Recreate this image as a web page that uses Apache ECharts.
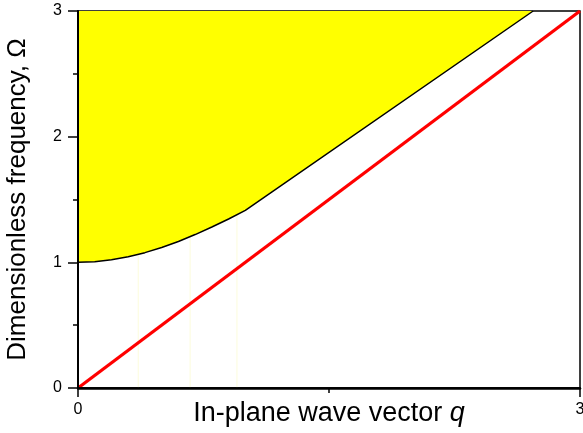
<!DOCTYPE html>
<html>
<head>
<meta charset="utf-8">
<script src="https://cdn.jsdelivr.net/npm/echarts@6/dist/echarts.min.js"></script>
<style>
  html, body { margin: 0; padding: 0; background: #fff; }
  #chart { width: 583px; height: 433px; }
</style>
</head>
<body>
<div id="chart"></div>
<script>
// Upper boundary of the gap (black curve): wave vector q vs frequency Omega
const boundaryQ = [0, 0.1, 0.2, 0.3, 0.4, 0.5, 0.6, 0.7, 0.8, 0.9, 1.0, 2.72];
const boundaryOmega = [1.0, 1.005, 1.02, 1.044, 1.077, 1.118, 1.166, 1.221, 1.281, 1.345, 1.414, 3.0];

// Light line (red): Omega = q
const lightQ = [0, 3];
const lightOmega = [0, 3];

// Faint seams in the shaded band
const seamQ = [0.36, 0.67, 0.95];

// Axis extents and tick labels
const xRange = [0, 3];
const yRange = [0, 3];
const xTickLabels = ['0', '3'];
const yTickLabels = ['0', '1', '2', '3'];

const FONT = '"Liberation Sans", Arial, Helvetica, sans-serif';

const chart = echarts.init(document.getElementById('chart'), null, { renderer: 'canvas' });

const pair = (xs, ys) => xs.map((x, i) => [x, ys[i]]);

// Seams sit below the opaque shading, so they only show under the boundary
const seamSeries = seamQ.map(q => ({
  type: 'line',
  data: [[q, yRange[0]], [q, yRange[1]]],
  showSymbol: false,
  silent: true,
  lineStyle: { color: '#fcfcdc', width: 1 },
  z: 1
}));

chart.setOption({
  animation: false,
  backgroundColor: '#ffffff',
  grid: {
    left: 78, right: 3, top: 11, bottom: 45,
    containLabel: false, outerBoundsMode: 'none',
    show: true, borderColor: '#000', borderWidth: 1.5, backgroundColor: 'transparent'
  },
  xAxis: [{
    type: 'value', min: xRange[0], max: xRange[1], interval: 3,
    name: '{n|In-plane wave vector }{i|q}',
    nameLocation: 'middle', nameGap: 12, nameMoveOverlap: false,
    nameTextStyle: {
      rich: {
        n: { fontFamily: FONT, fontSize: 27, color: '#000' },
        i: { fontFamily: FONT, fontSize: 27, color: '#000', fontStyle: 'italic' }
      }
    },
    z: 10,
    axisLine: { show: true, lineStyle: { color: '#000', width: 1.5 } },
    axisTick: { show: true, inside: false, length: 9, lineStyle: { color: '#000', width: 1.5 } },
    minorTick: { show: true, splitNumber: 2, length: 5, lineStyle: { color: '#000', width: 1.5 } },
    axisLabel: {
      fontFamily: FONT, fontSize: 16, color: '#000', margin: 14,
      formatter: v => (xTickLabels.includes(String(v)) ? String(v) : '')
    },
    splitLine: { show: false }
  }, {
    type: 'value', position: 'top', min: xRange[0], max: xRange[1],
    z: 10,
    axisLine: { show: true, lineStyle: { color: '#000', width: 2.5 } },
    axisTick: { show: false }, axisLabel: { show: false }, splitLine: { show: false }
  }],
  yAxis: [{
    type: 'value', min: yRange[0], max: yRange[1], interval: 1,
    name: 'Dimensionless frequency, Ω',
    nameLocation: 'middle', nameGap: 47, nameRotate: 90, nameMoveOverlap: false,
    nameTextStyle: { fontFamily: FONT, fontSize: 26, color: '#000' },
    z: 10,
    axisLine: { show: true, lineStyle: { color: '#000', width: 1.5 } },
    axisTick: { show: true, inside: false, length: 10, lineStyle: { color: '#000', width: 1.5 } },
    minorTick: { show: true, splitNumber: 2, length: 5, lineStyle: { color: '#000', width: 1.5 } },
    axisLabel: {
      fontFamily: FONT, fontSize: 16, color: '#000', margin: 16,
      formatter: v => (yTickLabels.includes(String(v)) ? String(v) : '')
    },
    splitLine: { show: false }
  }, {
    type: 'value', position: 'right', min: yRange[0], max: yRange[1],
    z: 10,
    axisLine: { show: true, lineStyle: { color: '#000', width: 2 } },
    axisTick: { show: false }, axisLabel: { show: false }, splitLine: { show: false }
  }],
  series: [
    ...seamSeries,
    {
      // Shaded region above the boundary, up to the top of the axis
      type: 'line',
      data: pair(boundaryQ, boundaryOmega),
      showSymbol: false,
      smooth: false,
      lineStyle: { color: '#000', width: 1.5 },
      areaStyle: { color: '#ffff00', opacity: 1, origin: 'end' },
      z: 3
    },
    {
      type: 'line',
      data: pair(lightQ, lightOmega),
      showSymbol: false,
      lineStyle: { color: '#ff0000', width: 3.2 },
      z: 4
    }
  ]
});
</script>
</body>
</html>
